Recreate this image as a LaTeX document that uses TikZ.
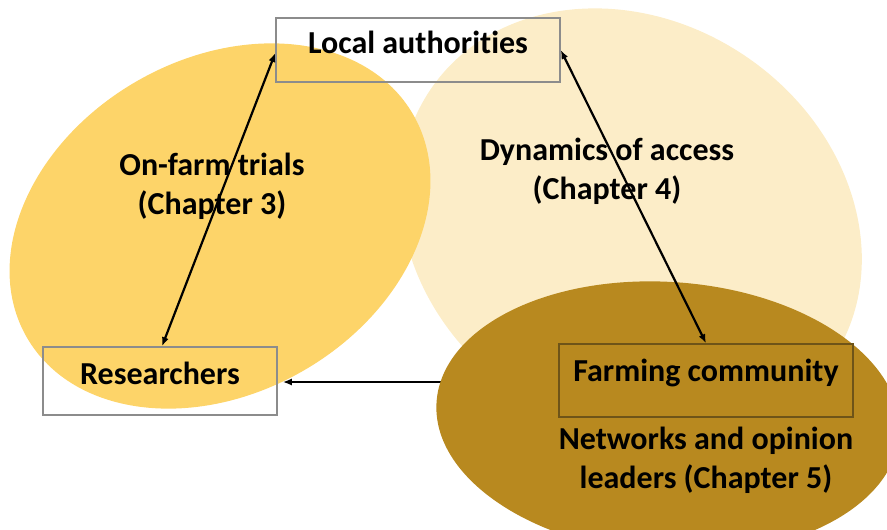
\documentclass[tikz,border=0pt]{standalone}
\usepackage{fontspec}
\setmainfont{Carlito}[RawFeature={-liga;-dlig;-clig}]
\usetikzlibrary{arrows.meta}
\definecolor{goldfill}{HTML}{FDD469}
\definecolor{lightfill}{HTML}{FCEDC8}
\definecolor{darkfill}{HTML}{B8891F}
\definecolor{boxgray}{HTML}{8C8C8C}
\definecolor{boxbrown}{HTML}{6E5418}
\tikzset{
  lbl/.style={font=\fontsize{32}{39}\selectfont\bfseries, align=center, inner sep=0pt},
  boxnode/.style={draw=boxgray, line width=1.5pt, inner sep=0pt, font=\fontsize{32}{39}\selectfont\bfseries, text height=21pt},
  conn/.style={line width=2.2pt, black},
  tip/.style={-{Latex[length=9pt,width=7pt]}},
  bitip/.style={{Latex[length=9pt,width=7pt]}-{Latex[length=9pt,width=7pt]}}
}
\begin{document}
\begin{tikzpicture}[x=1pt, y=-1pt]
\useasboundingbox (0,0) rectangle (887,530);
\clip (0,0) rectangle (887,530);
% ellipses
\fill[lightfill, rotate around={-34:(631,225)}] (631,225) ellipse [x radius=242pt, y radius=204pt];
\fill[goldfill, rotate around={30:(220,226)}] (220,226) ellipse [x radius=223pt, y radius=167pt];
% boxes
\node[boxnode, minimum width=284pt, minimum height=64pt, text depth=14pt] (la) at (418,50) {Local authorities};
\node[boxnode, minimum width=234pt, minimum height=68pt, text depth=15pt] (res) at (160,381) {Researchers};
\coordinate (src) at (480,382);
\draw[conn, tip, shorten >=5pt] (src) -- (res.east |- src);
\fill[darkfill, rotate around={-4:(668,418)}] (668,418) ellipse [x radius=232pt, y radius=136pt];
\node[boxnode, draw=boxbrown, minimum width=294pt, minimum height=73pt, text depth=20pt] (fc) at (706,380.5) {Farming community};
% labels
\node[lbl] (t3) at (212,186) {On-farm trials\\(Chapter 3)};
\node[lbl] (t4) at (607,171) {Dynamics of access\\(Chapter 4)};
\node[lbl] (t5) at (706,460) {Networks and opinion\\leaders (Chapter 5)};
% connectors
\draw[conn, bitip] ([xshift=2pt]res.north) -- ([yshift=-3pt]la.west);
\draw[conn, bitip] (la.east) -- (fc.north);
\end{tikzpicture}
\end{document}
